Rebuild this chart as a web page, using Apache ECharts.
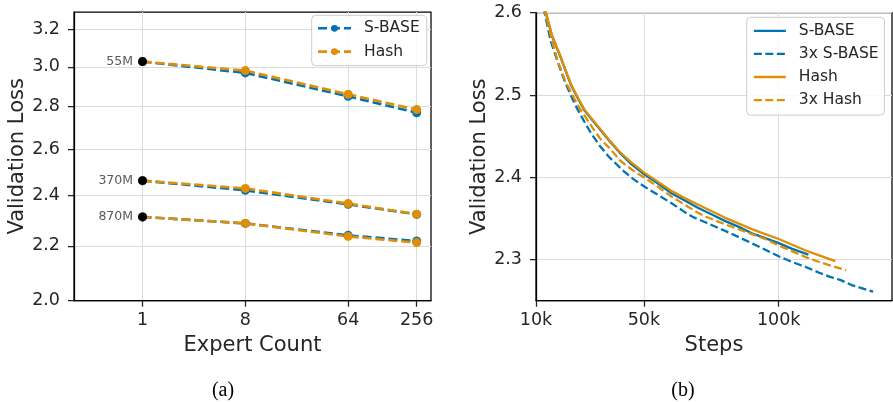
<!DOCTYPE html>
<html>
<head>
<meta charset="utf-8">
<script src="https://cdn.jsdelivr.net/npm/echarts@6/dist/echarts.min.js"></script>
<style>html,body{margin:0;padding:0;background:#fff}#c{width:893px;height:402px}</style>
</head>
<body>
<div id="c"></div>
<script>
// ---------- Panel (a) data ----------
var expertCounts = [1, 8, 64, 256];
var sbase55  = [3.028, 2.969, 2.851, 2.771];
var hash55   = [3.028, 2.981, 2.861, 2.786];
var sbase370 = [2.463, 2.422, 2.364, 2.323];
var hash370  = [2.463, 2.430, 2.367, 2.324];
var sbase870 = [2.313, 2.287, 2.240, 2.218];
var hash870  = [2.313, 2.287, 2.236, 2.212];
var denseLoss   = [3.028, 2.463, 2.313];
var denseLabels = ['55M', '370M', '870M'];
var yTicksA = [2.0, 2.2, 2.4, 2.6, 2.8, 3.0, 3.2];

// ---------- Panel (b) data ----------
var sbaseSteps = [12500,13600,16000,19000,21000,23000,25500,28000,31000,34000,37000,41000,45000,50000,55000,60000,65000,70000,75000,80000,85000,90000,95000,100000,105000,111000];
var sbaseLoss  = [2.620,2.600,2.571,2.547,2.529,2.512,2.496,2.481,2.469,2.457,2.445,2.430,2.417,2.404,2.393,2.381,2.372,2.363,2.355,2.347,2.340,2.332,2.326,2.320,2.313,2.306];
var sbase3Steps = [12200,13200,15500,18300,20500,22600,25000,27500,30500,33700,37000,42000,46000,50000,55000,60000,65000,68000,73000,80000,86000,90000,95000,100000,105000,110000,115000,119000,123000,127000,131000,135000];
var sbase3Loss  = [2.620,2.600,2.565,2.538,2.518,2.502,2.485,2.470,2.453,2.438,2.425,2.409,2.398,2.389,2.379,2.369,2.358,2.352,2.345,2.335,2.326,2.320,2.312,2.304,2.297,2.291,2.284,2.279,2.275,2.269,2.265,2.261];
var hashSteps = [12600,13700,16000,19000,21000,23000,25500,28000,31000,34000,37000,41000,45000,50000,55000,60000,65000,70000,75000,80000,85000,90000,95000,100000,105000,110000,115000,121000];
var hashLoss  = [2.620,2.600,2.572,2.548,2.530,2.513,2.497,2.482,2.470,2.458,2.446,2.431,2.419,2.406,2.395,2.384,2.375,2.367,2.359,2.351,2.344,2.337,2.331,2.325,2.318,2.311,2.305,2.298];
var hash3Steps = [12300,13400,16000,18000,20700,23500,26300,28000,31000,34000,37400,41000,44000,47000,50000,55000,60000,65000,70000,73000,80000,85000,90000,95000,100000,105000,110000,115000,120000,125000];
var hash3Loss  = [2.620,2.600,2.565,2.542,2.518,2.500,2.483,2.475,2.460,2.446,2.435,2.421,2.413,2.406,2.400,2.389,2.377,2.367,2.357,2.352,2.343,2.337,2.331,2.325,2.317,2.310,2.303,2.297,2.292,2.287];
var xTicksB = [10000, 50000, 100000];
var yTicksB = [2.3, 2.4, 2.5, 2.6];

var BLUE = '#0173b2', ORANGE = '#de8f05';
var FONT = 'DejaVu Sans';
var TXT = '#262626';

function zip(xs, ys) { return xs.map(function (x, i) { return [x, ys[i]]; }); }

function lineA(name, color, vals) {
  return {
    type: 'line', name: name, xAxisIndex: 0, yAxisIndex: 0,
    data: zip(expertCounts, vals),
    symbol: 'circle', symbolSize: 9, showSymbol: true,
    itemStyle: { color: color, opacity: 1 },
    lineStyle: { color: color, width: 2.6, type: [9, 4] },
    emphasis: { disabled: true }, animation: false
  };
}
function lineB(name, color, xs, ys, dashed) {
  return {
    type: 'line', name: name, xAxisIndex: 1, yAxisIndex: 1,
    data: zip(xs, ys),
    symbol: 'circle', showSymbol: false,
    itemStyle: { color: color },
    lineStyle: { color: color, width: 2.3, type: dashed ? [8, 3.5] : 'solid' },
    emphasis: { disabled: true }, animation: false, clip: true
  };
}

var axisCommon = {
  axisLine: { show: true, lineStyle: { color: '#000', width: 1.25 } },
  splitLine: { show: true, lineStyle: { color: '#dcdcdc', width: 1 } },
  nameTextStyle: { fontFamily: FONT, fontSize: 21, color: TXT }
};
function merge(a, b) { var o = {}; for (var k in a) o[k] = a[k]; for (var k2 in b) o[k2] = b[k2]; return o; }
function tick(vals) { return { show: true, length: 6, customValues: vals, lineStyle: { color: '#222', width: 1.25 } }; }

var chart = echarts.init(document.getElementById('c'), null, { renderer: 'canvas' });
chart.setOption({
  animation: false,
  backgroundColor: '#fff',
  textStyle: { fontFamily: FONT },
  grid: [
    { left: 74, top: 12, width: 357, height: 288.7, show: true, borderColor: '#000', borderWidth: 1.25, backgroundColor: 'transparent' },
    { left: 536, top: 12.7, width: 356, height: 288, show: true, borderColor: '#000', borderWidth: 1.25, backgroundColor: 'transparent' }
  ],
  xAxis: [
    merge(axisCommon, {
      gridIndex: 0, type: 'log', logBase: 2, min: 0.25, max: 342,
      name: 'Expert Count', nameLocation: 'middle', nameGap: 32,
      axisLabel: { customValues: expertCounts, formatter: function (v) { return String(Math.round(v)); }, fontFamily: FONT, fontSize: 17.5, color: TXT, margin: 11 },
      axisTick: tick(expertCounts)
    }),
    merge(axisCommon, {
      gridIndex: 1, type: 'value', min: 10000, max: 142000,
      name: 'Steps', nameLocation: 'middle', nameGap: 32,
      axisLabel: { customValues: xTicksB, formatter: function (v) { return Math.round(v / 1000) + 'k'; }, fontFamily: FONT, fontSize: 17.5, color: TXT, margin: 11 },
      axisTick: tick(xTicksB)
    })
  ],
  yAxis: [
    merge(axisCommon, {
      gridIndex: 0, type: 'log', logBase: 10, min: 2.0, max: 3.3,
      name: 'Validation Loss', nameLocation: 'middle', nameGap: 46,
      axisLabel: { customValues: yTicksA, formatter: function (v) { return v.toFixed(1); }, fontFamily: FONT, fontSize: 17.5, color: TXT, margin: 14 },
      axisTick: tick(yTicksA)
    }),
    merge(axisCommon, {
      gridIndex: 1, type: 'value', min: 2.25, max: 2.6,
      name: 'Validation Loss', nameLocation: 'middle', nameGap: 46,
      axisLabel: { customValues: yTicksB, formatter: function (v) { return v.toFixed(1); }, fontFamily: FONT, fontSize: 17.5, color: TXT, margin: 14 },
      axisTick: tick(yTicksB)
    })
  ],
  legend: [
    {
      data: ['S-BASE', 'Hash'], orient: 'vertical', left: 311.7, top: 15.3,
      padding: [4, 7, 5, 5], itemWidth: 33, itemHeight: 8.5, itemGap: 5.3,
      backgroundColor: 'rgba(255,255,255,0.85)', borderColor: '#cccccc', borderWidth: 1, borderRadius: 4,
      textStyle: { fontFamily: FONT, fontSize: 15.5, color: TXT, lineHeight: 18, padding: [0, 0, 0, 8] },
      lineStyle: { width: 2.6 },
      selectedMode: false
    },
    {
      data: ['S-BASE ', '3x S-BASE', 'Hash ', '3x Hash'], orient: 'vertical', left: 746.7, top: 17.3,
      padding: [4.5, 6, 6, 6], itemWidth: 32, itemHeight: 8, itemGap: 5.1,
      backgroundColor: 'rgba(255,255,255,0.85)', borderColor: '#cccccc', borderWidth: 1, borderRadius: 4,
      textStyle: { fontFamily: FONT, fontSize: 15.5, color: TXT, lineHeight: 18, padding: [0, 0, 0, 8] },
      itemStyle: { opacity: 0 },
      lineStyle: { width: 2.3 },
      selectedMode: false
    }
  ],
  series: [
    lineA('S-BASE', BLUE, sbase55),
    lineA('S-BASE', BLUE, sbase370),
    lineA('S-BASE', BLUE, sbase870),
    lineA('Hash', ORANGE, hash55),
    lineA('Hash', ORANGE, hash370),
    lineA('Hash', ORANGE, hash870),
    {
      type: 'scatter', name: 'dense', xAxisIndex: 0, yAxisIndex: 0,
      data: denseLoss.map(function (v) { return [expertCounts[0], v]; }),
      symbol: 'circle', symbolSize: 9, itemStyle: { color: '#000', opacity: 1 }, z: 5,
      label: { show: true, position: 'left', distance: 5, fontFamily: FONT, fontSize: 12.5, color: '#5a5a5a',
               formatter: function (p) { return denseLabels[p.dataIndex]; } },
      emphasis: { disabled: true }
    },
    lineB('S-BASE ', BLUE, sbaseSteps, sbaseLoss, false),
    lineB('3x S-BASE', BLUE, sbase3Steps, sbase3Loss, true),
    lineB('Hash ', ORANGE, hashSteps, hashLoss, false),
    lineB('3x Hash', ORANGE, hash3Steps, hash3Loss, true)
  ],
  graphic: [
    { type: 'text', x: 223, y: 391, style: { text: '(a)', fontSize: 20, fontFamily: 'Liberation Serif', fill: '#000', align: 'center', verticalAlign: 'middle' } },
    { type: 'text', x: 683, y: 391, style: { text: '(b)', fontSize: 20, fontFamily: 'Liberation Serif', fill: '#000', align: 'center', verticalAlign: 'middle' } }
  ]
});
</script>
</body>
</html>
